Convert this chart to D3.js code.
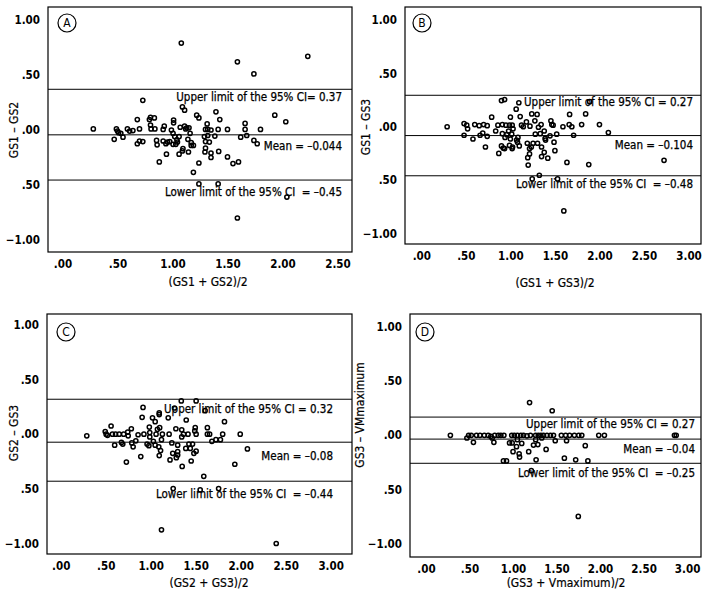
<!DOCTYPE html>
<html>
<head>
<meta charset="utf-8">
<script src="https://cdn.jsdelivr.net/npm/d3@7"></script>
<style>
  body { margin: 0; background: #fff; }
  svg text { font-family: "DejaVu Sans Condensed", "DejaVu Sans", sans-serif; fill: #000; }
</style>
</head>
<body>
<svg id="chart" width="706" height="602"></svg>
<script>
// tick values and labels (the -0.5 tick reads ".50" in the original)
const yTickValues = [1, 0.5, 0, -0.5, -1];
const yTickLabels = ["1.00", ".50", ".00", ".50", "\u22121.00"];
const xTickValuesA = [0, 0.5, 1, 1.5, 2, 2.5];
const xTickLabelsA = [".00", ".50", "1.00", "1.50", "2.00", "2.50"];
const xTickValues = [0, 0.5, 1, 1.5, 2, 2.5, 3];
const xTickLabels = [".00", ".50", "1.00", "1.50", "2.00", "2.50", "3.00"];

// panel A: (GS1+GS2)/2 vs GS1-GS2
const pointsA = [
  [1.08,0.79],[1.59,0.62],[1.74,0.51],[2.23,0.67],[0.73,0.27],[1.09,0.21],[1.11,0.18],
  [0.28,0.01],[0.47,-0.085],[0.49,0.01],[0.50,-0.01],[0.51,-0.025],[0.53,-0.03],[0.55,-0.065],
  [0.59,0.01],[0.61,-0.01],[0.64,-0.005],[0.68,0.095],[0.68,-0.125],[0.70,0.01],[0.70,-0.10],[0.73,-0.105],
  [0.79,0.095],[0.80,0.115],[0.835,0.11],[0.80,0.045],[0.805,0.01],[0.84,0.01],[0.855,-0.095],[0.86,-0.135],
  [0.88,-0.29],[0.915,-0.10],[0.925,0.035],[0.915,0.005],[0.94,-0.125],[0.945,-0.22],[0.955,-0.11],[0.975,-0.105],
  [0.99,0.0],[1.01,0.09],[1.01,0.065],[1.005,-0.03],[1.005,-0.13],[1.03,-0.13],[1.02,-0.06],[1.04,-0.09],[1.045,-0.11],
  [1.06,-0.22],[1.06,-0.06],[1.07,0.025],[1.09,-0.19],[1.095,-0.17],[1.11,0.035],[1.12,0.01],[1.13,0.02],[1.14,-0.085],
  [1.145,-0.20],[1.15,0.02],[1.16,-0.03],[1.17,-0.14],[1.17,-0.115],[1.19,-0.14],[1.19,-0.385],[1.22,0.135],[1.24,0.11],
  [1.24,-0.30],[1.24,-0.49],[1.30,0.005],[1.29,-0.06],[1.30,-0.105],[1.30,-0.165],[1.295,-0.20],[1.315,0.055],[1.32,0.005],
  [1.32,-0.05],[1.335,-0.11],[1.35,0.0],[1.35,-0.21],[1.35,-0.25],[1.385,-0.055],[1.395,0.165],[1.415,0.005],[1.42,-0.195],
  [1.415,-0.49],[1.43,0.095],[1.50,0.005],[1.50,-0.245],[1.55,-0.305],[1.59,-0.80],[1.60,-0.29],[1.62,-0.065],[1.66,0.06],
  [1.66,0.005],[1.675,-0.05],[1.74,-0.095],[1.77,-0.125],[1.80,0.005],[1.93,0.135],[2.03,0.075],[2.04,-0.61]
];
const linesA = [0.37, -0.044, -0.455];
const labelsA = ["Upper limit of the 95% CI= 0.37", "Mean = \u20130.044", "Lower limit of the 95% CI  = \u20130.45"];

// panel B: (GS1+GS3)/2 vs GS1-GS3
const pointsB = [
  [0.29,0.0],[0.48,0.03],[0.48,-0.08],[0.51,0.015],[0.52,-0.02],[0.58,-0.115],[0.60,0.02],[0.65,0.01],
  [0.66,-0.08],[0.69,-0.06],[0.70,0.02],[0.72,-0.19],[0.74,0.01],[0.74,-0.09],[0.79,0.09],[0.835,-0.04],
  [0.86,0.015],[0.87,-0.25],[0.90,0.245],[0.90,-0.18],[0.91,-0.065],[0.91,0.02],[0.92,-0.20],[0.935,0.255],
  [0.94,-0.10],[0.935,-0.205],[0.95,0.015],[0.96,-0.075],[0.98,-0.04],[0.99,0.015],[0.99,-0.175],[1.0,-0.115],
  [1.0,0.09],[1.015,-0.07],[1.02,-0.205],[1.02,0.015],[1.025,-0.19],[1.03,-0.02],[1.065,0.165],[1.07,-0.125],
  [1.08,-0.145],[1.085,-0.10],[1.095,0.225],[1.10,-0.18],[1.11,0.095],[1.125,0.015],[1.145,0.0],[1.18,0.045],
  [1.19,-0.155],[1.195,-0.29],[1.20,-0.36],[1.215,-0.205],[1.215,-0.255],[1.22,0.005],[1.235,-0.19],[1.24,0.12],
  [1.245,-0.49],[1.255,-0.155],[1.275,0.055],[1.28,-0.07],[1.30,0.115],[1.305,-0.155],[1.315,-0.005],[1.325,-0.455],
  [1.335,-0.065],[1.345,0.02],[1.35,-0.19],[1.35,-0.28],[1.38,-0.24],[1.38,-0.04],[1.39,-0.11],[1.395,-0.125],
  [1.42,-0.295],[1.445,-0.085],[1.455,0.055],[1.465,0.02],[1.48,0.015],[1.49,-0.145],[1.50,-0.225],[1.52,-0.07],
  [1.53,-0.49],[1.59,0.0],[1.60,-0.79],[1.635,-0.335],[1.66,0.02],[1.665,0.115],[1.69,0.0],[1.71,-0.08],
  [1.80,0.02],[1.845,0.12],[1.88,-0.355],[1.89,0.235],[2.0,0.02],[2.10,-0.055],[2.725,-0.315]
];
const linesB = [0.295, -0.083, -0.46];
const labelsB = ["Upper limit of the 95% CI = 0.27", "Mean = \u20130.104", "Lower limit of the 95% CI  = \u20130.48"];

// panel C: (GS2+GS3)/2 vs GS2-GS3
const pointsC = [
  [0.29,-0.015],[0.495,0.025],[0.505,0.0],[0.52,-0.01],[0.56,0.075],[0.575,0.0],[0.60,-0.10],[0.61,0.0],
  [0.65,0.0],[0.675,-0.075],[0.69,-0.09],[0.70,0.0],[0.73,-0.255],[0.745,0.02],[0.75,-0.015],[0.785,0.05],
  [0.79,-0.08],[0.805,-0.115],[0.835,-0.06],[0.86,-0.005],[0.89,-0.205],[0.915,0.245],[0.905,0.155],[0.925,0.0],
  [0.96,-0.09],[0.98,-0.105],[0.985,0.065],[0.99,-0.025],[0.99,0.015],[1.02,0.15],[1.03,-0.065],[1.05,-0.10],
  [1.05,0.115],[1.06,0.0],[1.075,0.045],[1.09,-0.115],[1.095,0.195],[1.095,0.18],[1.095,-0.195],[1.10,0.06],
  [1.11,-0.15],[1.12,-0.05],[1.13,0.0],[1.195,0.15],[1.205,0.0],[1.215,-0.235],[1.235,-0.08],[1.25,-0.497],
  [1.245,-0.175],[1.265,0.24],[1.28,0.05],[1.285,-0.215],[1.30,-0.10],[1.30,-0.16],[1.30,-0.19],[1.34,0.305],
  [1.345,-0.025],[1.345,0.04],[1.35,-0.295],[1.365,0.0],[1.39,-0.13],[1.395,0.13],[1.415,0.0],[1.425,-0.09],
  [1.44,-0.13],[1.45,-0.245],[1.465,-0.09],[1.48,-0.175],[1.49,0.03],[1.495,0.06],[1.505,0.0],[1.505,0.305],
  [1.505,-0.155],[1.55,-0.51],[1.59,-0.385],[1.605,0.215],[1.63,0.06],[1.63,0.0],[1.655,0.0],[1.68,-0.065],
  [1.725,-0.05],[1.755,-0.497],[1.775,-0.05],[1.80,0.0],[1.82,0.115],[1.935,-0.275],[1.995,0.0],[2.075,-0.135],
  [1.12,-0.875],[2.395,-1.0]
];
const linesC = [0.32, -0.073, -0.43];
const labelsC = ["Upper limit of the 95% CI = 0.32", "Mean = \u20130.08", "Lower limit of the 95% CI  = \u20130.44"];

// panel D: (GS3+Vmaximum)/2 vs GS3-VMmaximum
const pointsD = [
  [0.28,0.0],[0.47,-0.025],[0.49,0.0],[0.52,0.0],[0.545,-0.065],[0.58,0.0],[0.62,0.0],[0.67,0.0],
  [0.715,0.0],[0.745,-0.01],[0.76,-0.025],[0.78,-0.065],[0.79,0.0],[0.83,0.0],[0.86,0.0],[0.895,0.0],
  [0.89,-0.235],[0.925,-0.235],[0.96,-0.07],[0.985,0.0],[0.99,-0.07],[1.0,-0.15],[1.015,0.0],[1.04,-0.105],
  [1.05,0.0],[1.05,-0.04],[1.07,-0.17],[1.075,-0.20],[1.09,0.0],[1.10,-0.075],[1.12,0.0],[1.16,-0.005],
  [1.18,-0.15],[1.19,0.30],[1.20,0.0],[1.235,-0.09],[1.26,0.0],[1.26,-0.04],[1.265,-0.225],[1.285,-0.085],
  [1.29,0.0],[1.32,0.0],[1.33,-0.025],[1.35,0.0],[1.38,-0.13],[1.39,0.0],[1.43,0.0],[1.45,0.225],
  [1.465,0.0],[1.485,-0.05],[1.555,0.0],[1.59,-0.21],[1.605,0.0],[1.615,-0.05],[1.65,0.0],[1.705,0.0],
  [1.72,-0.225],[1.75,-0.745],[1.755,0.0],[1.79,0.0],[1.83,-0.095],[1.86,-0.235],[1.985,0.0],[2.05,0.0],
  [2.855,0.0],[2.875,0.0],[1.21,-0.325]
];
const linesD = [0.167, -0.035, -0.257];
const labelsD = ["Upper limit of the 95% CI = 0.27", "Mean = \u20130.04", "Lower limit of the 95% CI  = \u20130.25"];

const panels = [
  { name: "A", points: pointsA, lines: linesA, labels: labelsA,
    xTitle: "(GS1 + GS2)/2", yTitle: "GS1 \u2013 GS2",
    box: [48, 7, 352, 252], xDomain: [-0.132, 2.632], yDomain: [-1.109, 1.118],
    xTicks: xTickValuesA, xLabels: xTickLabelsA,
    labelRight: 342, labelDy: [8, 11, 12], yTitlePos: [14, 130], xTitlePos: [208, 282], badge: [67, 23] },
  { name: "B", points: pointsB, lines: linesB, labels: labelsB,
    xTitle: "(GS1 + GS3)/2", yTitle: "GS1 \u2013 GS3",
    box: [405, 7, 701, 244], xDomain: [-0.183, 3.14], yDomain: [-1.10, 1.123],
    xTicks: xTickValues, xLabels: xTickLabels,
    labelRight: 693, labelDy: [7, 9, 8], yTitlePos: [366, 127], xTitlePos: [555, 283], badge: [422, 23] },
  { name: "C", points: pointsC, lines: linesC, labels: labelsC,
    xTitle: "(GS2 + GS3)/2", yTitle: "GS2 \u2013 GS3",
    box: [47, 314, 352, 554], xDomain: [-0.152, 3.237], yDomain: [-1.096, 1.10],
    xTicks: xTickValues, xLabels: xTickLabels,
    labelRight: 333, labelDy: [10, 14, 13], yTitlePos: [14, 433], xTitlePos: [209, 583], badge: [66, 332] },
  { name: "D", points: pointsD, lines: linesD, labels: labelsD,
    xTitle: "(GS3 + Vmaximum)/2", yTitle: "GS3 \u2013 VMmaximum",
    box: [410, 314, 701, 557], xDomain: [-0.184, 3.16], yDomain: [-1.117, 1.113],
    xTicks: xTickValues, xLabels: xTickLabels,
    labelRight: 695, labelDy: [7, 10, 10], yTitlePos: [360, 415], xTitlePos: [566, 583], badge: [425, 332] }
];

const svg = d3.select("#chart");

panels.forEach(p => {
  const [x0, y0, x1, y1] = p.box;
  const x = d3.scaleLinear().domain(p.xDomain).range([x0, x1]);
  const y = d3.scaleLinear().domain(p.yDomain).range([y1, y0]);
  const g = svg.append("g");

  // axes without tick marks, frame drawn separately
  const xAxis = g.append("g")
    .attr("transform", `translate(0,${y1})`)
    .call(d3.axisBottom(x).tickValues(p.xTicks).tickSize(0).tickPadding(8)
      .tickFormat((d, i) => p.xLabels[i]));
  const yAxis = g.append("g")
    .attr("transform", `translate(${x0},0)`)
    .call(d3.axisLeft(y).tickValues(yTickValues).tickSize(0).tickPadding(8)
      .tickFormat((d, i) => yTickLabels[i]));
  [xAxis, yAxis].forEach(a => {
    a.select(".domain").remove();
    a.selectAll("text")
      .style("font-family", '"DejaVu Sans Condensed", "DejaVu Sans", sans-serif')
      .style("font-size", "11.5px")
      .style("font-weight", "bold")
      .attr("fill", "#000");
  });

  g.append("rect")
    .attr("x", x0).attr("y", y0)
    .attr("width", x1 - x0).attr("height", y1 - y0)
    .attr("fill", "none").attr("stroke", "#000").attr("stroke-width", 1.2);

  // limit and mean lines
  g.selectAll("line.ref").data(p.lines).enter().append("line")
    .attr("class", "ref")
    .attr("x1", x0).attr("x2", x1)
    .attr("y1", d => y(d)).attr("y2", d => y(d))
    .attr("stroke", "#000").attr("stroke-width", 1);

  g.selectAll("text.ref").data(p.labels).enter().append("text")
    .attr("class", "ref")
    .attr("x", p.labelRight)
    .attr("y", (d, i) => y(p.lines[i]) + p.labelDy[i])
    .attr("text-anchor", "end")
    .attr("dominant-baseline", "central")
    .style("white-space", "pre")
    .style("font-size", "11.5px")
    .attr("stroke", "#000").attr("stroke-width", 0.25)
    .text(d => d);

  g.selectAll("circle.pt").data(p.points).enter().append("circle")
    .attr("class", "pt")
    .attr("cx", d => x(d[0])).attr("cy", d => y(d[1]))
    .attr("r", 2.1)
    .attr("fill", "none").attr("stroke", "#000").attr("stroke-width", 1.5);

  // panel letter in a circle
  g.append("circle")
    .attr("cx", p.badge[0]).attr("cy", p.badge[1]).attr("r", 9)
    .attr("fill", "none").attr("stroke", "#000").attr("stroke-width", 1.2);
  g.append("text")
    .attr("x", p.badge[0]).attr("y", p.badge[1])
    .attr("text-anchor", "middle").attr("dominant-baseline", "central")
    .style("font-size", "12px")
    .text(p.name);

  g.append("text")
    .attr("x", p.xTitlePos[0]).attr("y", p.xTitlePos[1])
    .attr("text-anchor", "middle").attr("dominant-baseline", "central")
    .style("font-size", "12px")
    .attr("stroke", "#000").attr("stroke-width", 0.2)
    .text(p.xTitle);

  g.append("text")
    .attr("transform", `translate(${p.yTitlePos[0]},${p.yTitlePos[1]}) rotate(-90)`)
    .attr("text-anchor", "middle").attr("dominant-baseline", "central")
    .style("font-size", "12px")
    .attr("stroke", "#000").attr("stroke-width", 0.2)
    .text(p.yTitle);
});
</script>
</body>
</html>
